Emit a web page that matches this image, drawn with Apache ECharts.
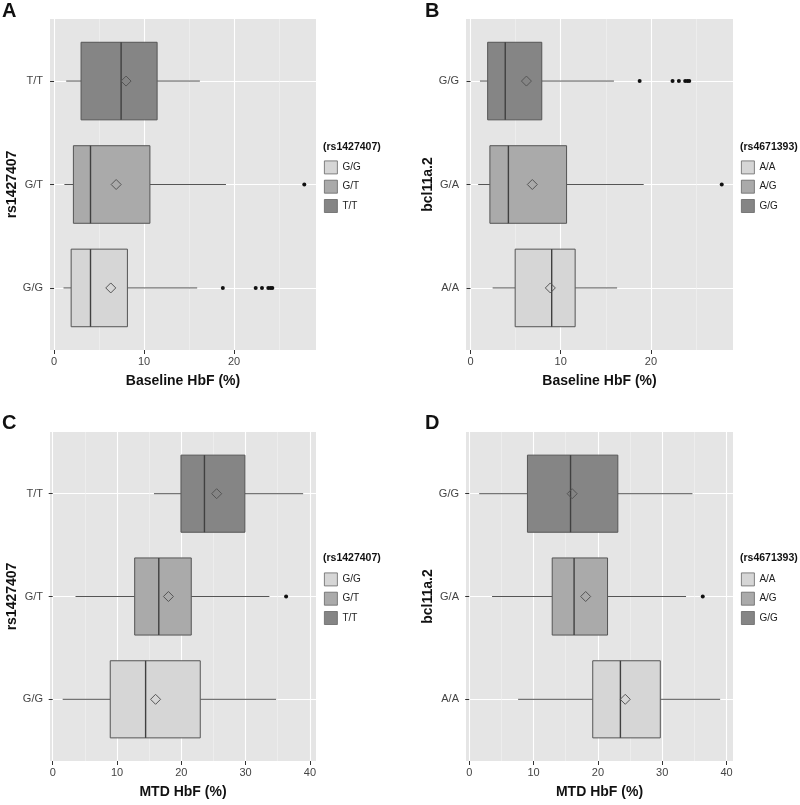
<!DOCTYPE html>
<html><head><meta charset="utf-8">
<script src="https://cdn.jsdelivr.net/npm/echarts@6/dist/echarts.min.js"></script>
<style>html,body{margin:0;padding:0;background:#fff}#c{width:800px;height:805px}</style>
</head><body><div id="c"></div><script>
// ---------- DATA (bottom-to-top category order) ----------
// Panel A: rs1427407 vs Baseline HbF
const catsA = ['G/G', 'G/T', 'T/T'];
const statsA = [[1.05, 1.9, 4.05, 8.15, 15.9], [1.15, 2.15, 4.05, 10.65, 19.1], [1.35, 3.0, 7.45, 11.45, 16.2]]; // [min,Q1,median,Q3,max]
const meansA = [6.3, 6.9, 8.0];
const outliersA = [[18.75, 22.4, 23.1, 23.8, 24.05, 24.25], [27.8], []];
const legendA = ['G/G', 'G/T', 'T/T'];
// Panel B: bcl11a.2 vs Baseline HbF
const catsB = ['A/A', 'G/A', 'G/G'];
const statsB = [[2.45, 4.95, 9.0, 11.6, 16.25], [0.85, 2.15, 4.2, 10.65, 19.2], [1.05, 1.9, 3.85, 7.9, 15.9]];
const meansB = [8.85, 6.85, 6.2];
const outliersB = [[], [27.85], [18.75, 22.4, 23.1, 23.8, 24.05, 24.25]];
const legendB = ['A/A', 'A/G', 'G/G'];
// Panel C: rs1427407 vs MTD HbF
const catsC = ['G/G', 'G/T', 'T/T'];
const statsC = [[1.55, 8.95, 14.45, 22.95, 34.75], [3.55, 12.75, 16.5, 21.55, 33.7], [15.75, 19.95, 23.6, 29.9, 38.95]];
const meansC = [16.0, 18.0, 25.5];
const outliersC = [[], [36.3], []];
const legendC = ['G/G', 'G/T', 'T/T'];
// Panel D: bcl11a.2 vs MTD HbF
const catsD = ['A/A', 'G/A', 'G/G'];
const statsD = [[7.6, 19.2, 23.5, 29.7, 39.0], [3.55, 12.9, 16.3, 21.5, 33.7], [1.55, 9.05, 15.75, 23.1, 34.7]];
const meansD = [24.25, 18.1, 16.0];
const outliersD = [[], [36.3], []];
const legendD = ['A/A', 'A/G', 'G/G'];
// Tick labels
const ticksBaseline = [0, 10, 20];
const minorBaseline = [5, 15, 25];
const ticksMTD = [0, 10, 20, 30, 40];
const minorMTD = [5, 15, 25, 35];

// ---------- STYLE / LAYOUT ----------
const FONT = "'Liberation Sans', Arial, Helvetica, sans-serif";
const FILLS = ['#d6d6d6', '#aaaaaa', '#858585'];
const EDGE = '#555555';
const panels = [
  {id: 'A', cats: catsA, stats: statsA, means: meansA, outliers: outliersA, legend: legendA, legendTitle: '(rs1427407)',
   ticks: ticksBaseline, minor: minorBaseline, xMin: -0.45, xMax: 29.1, xName: 'Baseline HbF (%)', yName: 'rs1427407',
   grid: {left: 50, top: 19, width: 266, height: 331}, yNameGap: 31, lx: 324, ltTop: 142, lTop: 160.5, letter: [2, 1.5]},
  {id: 'B', cats: catsB, stats: statsB, means: meansB, outliers: outliersB, legend: legendB, legendTitle: '(rs4671393)',
   ticks: ticksBaseline, minor: minorBaseline, xMin: -0.5, xMax: 29.1, xName: 'Baseline HbF (%)', yName: 'bcl11a.2',
   grid: {left: 466, top: 19, width: 267, height: 331}, yNameGap: 26, lx: 741, ltTop: 142, lTop: 160.5, letter: [425, 1.5]},
  {id: 'C', cats: catsC, stats: statsC, means: meansC, outliers: outliersC, legend: legendC, legendTitle: '(rs1427407)',
   ticks: ticksMTD, minor: minorMTD, xMin: -0.42, xMax: 40.95, xName: 'MTD HbF (%)', yName: 'rs1427407',
   grid: {left: 50, top: 432, width: 266, height: 329}, yNameGap: 31, lx: 324, ltTop: 553, lTop: 572.5, letter: [2, 413.5]},
  {id: 'D', cats: catsD, stats: statsD, means: meansD, outliers: outliersD, legend: legendD, legendTitle: '(rs4671393)',
   ticks: ticksMTD, minor: minorMTD, xMin: -0.5, xMax: 41.0, xName: 'MTD HbF (%)', yName: 'bcl11a.2',
   grid: {left: 466, top: 432, width: 267, height: 329}, yNameGap: 26, lx: 741, ltTop: 553, lTop: 572.5, letter: [425, 413.5]}
];

function renderBox(params, api) {
  const y = api.value(0);
  const lo = api.coord([api.value(1), y]);
  const q1 = api.coord([api.value(2), y]);
  const md = api.coord([api.value(3), y]);
  const q3 = api.coord([api.value(4), y]);
  const hi = api.coord([api.value(5), y]);
  const h = Math.abs(api.coord([0, y + 0.375])[1] - api.coord([0, y - 0.375])[1]);
  const fill = FILLS[Math.round(y) - 1];
  const ls = {stroke: EDGE, lineWidth: 1};
  return {type: 'group', children: [
    {type: 'line', shape: {x1: lo[0], y1: lo[1], x2: q1[0], y2: q1[1]}, style: ls},
    {type: 'line', shape: {x1: q3[0], y1: q3[1], x2: hi[0], y2: hi[1]}, style: ls},
    {type: 'rect', shape: {x: q1[0], y: q1[1] - h / 2, width: q3[0] - q1[0], height: h}, style: {fill: fill, stroke: EDGE, lineWidth: 1}},
    {type: 'line', shape: {x1: md[0], y1: md[1] - h / 2, x2: md[0], y2: md[1] + h / 2}, style: {stroke: '#404040', lineWidth: 1.4}}
  ]};
}

const option = {animation: false, backgroundColor: '#ffffff', textStyle: {fontFamily: FONT},
  grid: [], xAxis: [], yAxis: [], series: [], legend: [], graphic: []};

panels.forEach((p, i) => {
  option.grid.push(Object.assign({show: true, backgroundColor: '#e5e5e5', borderWidth: 0}, p.grid));
  // main x axis (labels, ticks, major grid)
  option.xAxis.push({gridIndex: i, type: 'value', min: p.xMin, max: p.xMax, position: 'bottom',
    axisLine: {show: false},
    axisTick: {show: true, customValues: p.ticks, length: 4, lineStyle: {color: '#333'}},
    axisLabel: {customValues: p.ticks, margin: 6, fontSize: 11, color: '#444', fontFamily: FONT},
    splitLine: {show: true, lineStyle: {color: '#ffffff', width: 1.1}},
    name: p.xName, nameLocation: 'middle', nameGap: 24,
    nameTextStyle: {fontSize: 14, fontWeight: 'bold', color: '#111', fontFamily: FONT}});
  // helper x axis for minor grid lines
  option.xAxis.push({gridIndex: i, type: 'value', min: p.xMin, max: p.xMax, position: 'top',
    axisLine: {show: false}, axisTick: {show: false, customValues: p.minor}, axisLabel: {show: false},
    splitLine: {show: true, lineStyle: {color: '#f2f2f2', width: 0.6}}});
  const pos = p.cats.map((c, k) => k + 1);
  option.yAxis.push({gridIndex: i, type: 'value', min: 0.4, max: 3.6,
    axisLine: {show: false},
    axisTick: {show: true, customValues: pos, length: 4, lineStyle: {color: '#333'}},
    axisLabel: {customValues: pos, margin: 7, fontSize: 11, color: '#444', fontFamily: FONT,
      formatter: v => p.cats[Math.round(v) - 1] || ''},
    splitLine: {show: true, lineStyle: {color: '#ffffff', width: 1.1}},
    name: p.yName, nameLocation: 'middle', nameGap: p.yNameGap, nameRotate: 90,
    nameTextStyle: {fontSize: 14, fontWeight: 'bold', color: '#111', fontFamily: FONT}});

  const xi = i * 2, yi = i;
  option.series.push({type: 'custom', xAxisIndex: xi, yAxisIndex: yi, z: 2,
    data: p.stats.map((s, k) => [k + 1].concat(s)), encode: {x: [1, 2, 3, 4, 5], y: 0}, renderItem: renderBox});
  option.series.push({type: 'scatter', xAxisIndex: xi, yAxisIndex: yi, z: 4, symbol: 'diamond', symbolSize: 10,
    itemStyle: {color: 'rgba(0,0,0,0)', borderColor: EDGE, borderWidth: 1, opacity: 1},
    data: p.means.map((m, k) => [m, k + 1])});
  const outs = [];
  p.outliers.forEach((arr, k) => arr.forEach(v => outs.push([v, k + 1])));
  option.series.push({type: 'scatter', xAxisIndex: xi, yAxisIndex: yi, z: 4, symbol: 'circle', symbolSize: 4,
    itemStyle: {color: '#111', opacity: 1}, data: outs});
  // legend series (no marks)
  p.legend.forEach((n, j) => option.series.push({type: 'scatter', name: p.id + ':' + n, xAxisIndex: xi, yAxisIndex: yi,
    data: [], itemStyle: {color: FILLS[j], opacity: 1}}));
  option.legend.push({data: p.legend.map(n => p.id + ':' + n), formatter: n => n.split(':')[1],
    orient: 'vertical', left: p.lx, top: p.lTop, padding: 0, itemWidth: 13, itemHeight: 13, itemGap: 5.5,
    icon: 'rect', selectedMode: false, itemStyle: {borderColor: '#666', borderWidth: 0.8, opacity: 1},
    textStyle: {fontSize: 10, color: '#222', fontFamily: FONT}});
  option.graphic.push({type: 'text', left: p.lx - 1, top: p.ltTop,
    style: {text: p.legendTitle, font: 'bold 10.5px ' + FONT, fill: '#111'}});
  option.graphic.push({type: 'text', left: p.letter[0], top: p.letter[1],
    style: {text: p.id, font: 'bold 20px ' + FONT, fill: '#111'}});
});

const chart = echarts.init(document.getElementById('c'), null, {renderer: 'canvas'});
chart.setOption(option);
</script></body></html>
